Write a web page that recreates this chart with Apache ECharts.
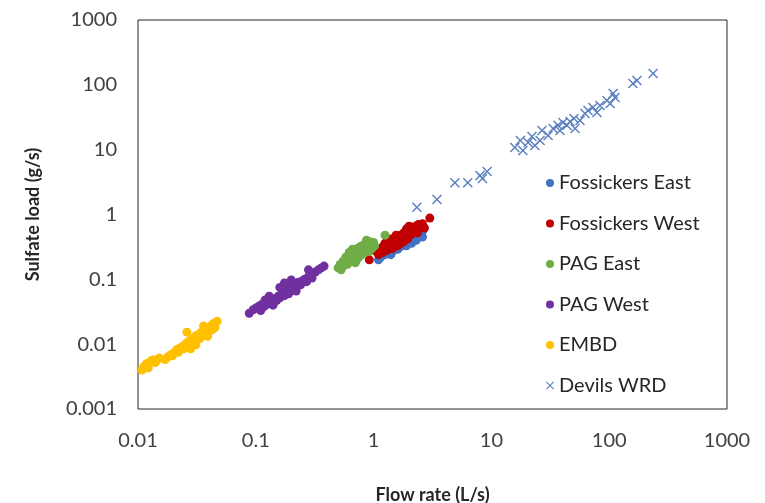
<!DOCTYPE html>
<html>
<head>
<meta charset="utf-8">
<script src="https://cdn.jsdelivr.net/npm/echarts@6/dist/echarts.min.js"></script>
<style>
  html, body { margin: 0; padding: 0; background: #fff; }
  #chart { width: 765px; height: 503px; }
</style>
</head>
<body>
<div id="chart"></div>
<script>
// series names (legend order)
var seriesNames = ['Fossickers East', 'Fossickers West', 'PAG East', 'PAG West', 'EMBD', 'Devils WRD'];

// [flow rate L/s, sulfate load g/s]
var fossickersEast = [
    [1.15,0.22],[1.25,0.24],[1.35,0.26],[1.45,0.27],[1.5,0.3],[1.6,0.29],[1.7,0.32],[1.8,0.34],
    [1.9,0.33],[2.0,0.38],[2.1,0.36],[2.2,0.42],[2.3,0.4],[2.4,0.46],[2.5,0.5],[2.6,0.55],
    [1.3,0.3],[1.55,0.34],[1.75,0.4],[2.0,0.44],[2.2,0.5],[2.45,0.6],[2.6,0.45],[1.1,0.2],[1.4,0.24]
];
var fossickersWest = [
    [0.92,0.2],[1.1,0.24],[1.15,0.28],[1.2,0.26],[1.25,0.3],[1.3,0.33],[1.3,0.28],[1.35,0.36],
    [1.4,0.31],[1.45,0.38],[1.5,0.34],[1.5,0.42],[1.55,0.37],[1.6,0.45],[1.6,0.33],[1.65,0.4],
    [1.7,0.48],[1.75,0.42],[1.8,0.38],[1.8,0.52],[1.85,0.45],[1.9,0.5],[1.95,0.42],[2.0,0.55],
    [2.0,0.47],[2.1,0.6],[2.1,0.5],[2.2,0.56],[2.2,0.65],[2.3,0.6],[2.35,0.52],[2.4,0.7],
    [2.5,0.64],[2.6,0.72],[1.2,0.32],[1.4,0.42],[1.7,0.36],[1.45,0.3],[3.0,0.88],[2.0,0.66],[2.7,0.62],
    [1.05,0.27],[1.25,0.36],[1.55,0.48],[1.9,0.6]
];
var pagEast = [
    [0.5,0.15],[0.52,0.17],[0.55,0.16],[0.55,0.19],[0.58,0.18],[0.6,0.21],[0.6,0.17],[0.62,0.2],
    [0.63,0.24],[0.65,0.19],[0.65,0.22],[0.68,0.26],[0.68,0.21],[0.7,0.24],[0.7,0.28],[0.72,0.2],
    [0.73,0.3],[0.75,0.25],[0.75,0.22],[0.77,0.32],[0.78,0.27],[0.8,0.24],[0.8,0.3],[0.82,0.34],
    [0.83,0.28],[0.85,0.31],[0.85,0.26],[0.88,0.36],[0.9,0.3],[0.9,0.33],[0.93,0.38],[0.95,0.34],
    [0.97,0.3],[1.0,0.37],[1.02,0.33],[0.58,0.22],[0.62,0.26],[0.7,0.18],[0.53,0.14],[1.25,0.48],
    [0.66,0.29],[0.87,0.4],[0.57,0.2],[0.92,0.27]
];
var pagWest = [
    [0.088,0.030],[0.095,0.034],[0.1,0.036],[0.105,0.038],[0.11,0.04],[0.112,0.035],[0.115,0.042],
    [0.12,0.039],[0.125,0.044],[0.13,0.046],[0.135,0.043],[0.14,0.048],[0.145,0.05],[0.15,0.047],
    [0.155,0.055],[0.16,0.052],[0.165,0.058],[0.17,0.062],[0.175,0.056],[0.18,0.065],[0.185,0.07],
    [0.19,0.06],[0.195,0.075],[0.2,0.068],[0.205,0.08],[0.21,0.072],[0.215,0.085],[0.22,0.078],
    [0.23,0.09],[0.24,0.082],[0.25,0.095],[0.26,0.1],[0.27,0.092],[0.28,0.11],[0.29,0.12],
    [0.3,0.105],[0.32,0.13],[0.34,0.14],[0.36,0.15],[0.38,0.16],[0.175,0.088],[0.16,0.075],
    [0.13,0.055],[0.2,0.098],[0.12,0.048],[0.28,0.14],[0.11,0.033],[0.14,0.04],[0.22,0.066]
];
var embd = [
    [0.0108,0.0040],[0.0112,0.0045],[0.0118,0.0050],[0.0122,0.0043],[0.0128,0.0054],[0.0133,0.0057],
    [0.014,0.0052],[0.0146,0.0058],[0.0152,0.0061],[0.017,0.0058],[0.018,0.0064],[0.0188,0.0068],
    [0.0196,0.0066],[0.02,0.0073],[0.021,0.0078],[0.0215,0.0083],[0.022,0.0075],[0.023,0.0088],
    [0.024,0.0092],[0.0245,0.0085],[0.025,0.0098],[0.026,0.0105],[0.0265,0.0095],[0.027,0.011],
    [0.028,0.0115],[0.0285,0.0102],[0.029,0.012],[0.03,0.0125],[0.0305,0.011],[0.031,0.0135],
    [0.032,0.013],[0.033,0.014],[0.0335,0.0122],[0.034,0.015],[0.035,0.0145],[0.036,0.016],
    [0.037,0.0138],[0.038,0.017],[0.039,0.0155],[0.04,0.018],[0.041,0.016],[0.042,0.0195],
    [0.043,0.017],[0.044,0.021],[0.045,0.018],[0.047,0.0225],[0.026,0.0153],[0.036,0.019],
    [0.031,0.0098],[0.039,0.0132],[0.028,0.0085]
];
var devilsWRD = [
    [2.33,1.29],[3.45,1.71],[4.9,3.1],[6.3,3.1],[8.0,4.0],[8.4,3.6],[9.2,4.6],
    [15.8,10.8],[17.6,13.9],[18.5,9.7],[20.5,12.9],[22.1,16.0],[23.4,11.6],[25.9,13.9],[26.9,19.8],
    [30.3,16.6],[33.4,21.3],[36.7,23.7],[38.2,19.8],[40.5,26.3],[43.8,23.7],[46.5,27.3],[50.2,30.3],
    [51.3,21.3],[56.5,28.3],[62.3,36.2],[66.1,40.3],[72.8,44.9],[78.7,37.6],[83.5,48.2],[95.7,57.5],
    [102,51.6],[108,73.7],[112,63.9],[159,105],[172,117],[236,150]
];

var seriesData = [fossickersEast, fossickersWest, pagEast, pagWest, embd, devilsWRD];
var seriesColors = ['#4472C4', '#C00000', '#70AD47', '#7030A0', '#FFC000', '#5B7FBF'];

var crossPath = 'path://M1,0L5,4L9,0L10,1L6,5L10,9L9,10L5,6L1,10L0,9L4,5L0,1Z';

var myChart = echarts.init(document.getElementById('chart'));

var fmt = function (v) { return String(Number(v.toPrecision(3))); };

var series = seriesNames.map(function (name, i) {
    var isCross = name === 'Devils WRD';
    return {
        name: name,
        type: 'scatter',
        data: seriesData[i],
        symbol: isCross ? crossPath : 'circle',
        symbolSize: isCross ? 10 : 9,
        itemStyle: { color: seriesColors[i], opacity: 1 },
        emphasis: { disabled: true }
    };
});

var option = {
    animation: false,
    textStyle: { fontFamily: 'Lato' },
    grid: {
        left: 138,
        right: 38,
        top: 20,
        bottom: 94,
        outerBoundsMode: 'none',
        show: true,
        borderColor: '#262626',
        borderWidth: 1
    },
    legend: {
        orient: 'vertical',
        left: 541,
        top: 168,
        itemWidth: 8,
        itemHeight: 8,
        itemGap: 20.5,
        textStyle: { color: '#262626', fontSize: 20, fontFamily: 'Lato' },
        data: seriesNames.map(function (n) {
            return { name: n, icon: n === 'Devils WRD' ? crossPath : 'circle' };
        })
    },
    xAxis: {
        type: 'log',
        logBase: 10,
        min: 0.01,
        max: 1000,
        name: 'Flow rate (L/s)',
        nameLocation: 'middle',
        nameGap: 77,
        nameTextStyle: { color: '#262626', fontSize: 18, fontWeight: 'bold', fontFamily: 'Lato' },
        axisLine: { show: false },
        axisTick: { show: false },
        splitLine: { show: false },
        axisLabel: { color: '#404040', fontSize: 20, margin: 22, formatter: fmt }
    },
    yAxis: {
        type: 'log',
        logBase: 10,
        min: 0.001,
        max: 1000,
        name: 'Sulfate load (g/s)',
        nameLocation: 'middle',
        nameGap: 96,
        nameTextStyle: { color: '#262626', fontSize: 18, fontWeight: 'bold', fontFamily: 'Lato' },
        axisLine: { show: false },
        axisTick: { show: false },
        splitLine: { show: false },
        axisLabel: { color: '#404040', fontSize: 20, margin: 21, formatter: fmt }
    },
    series: series
};

myChart.setOption(option);
</script>
</body>
</html>
